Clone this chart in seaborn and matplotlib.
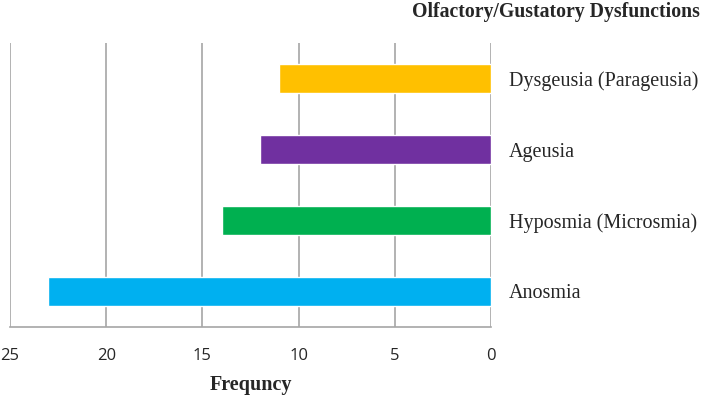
import matplotlib
matplotlib.use("Agg")
import matplotlib.pyplot as plt
import seaborn as sns
import pandas as pd

categories = ["Dysgeusia (Parageusia)", "Ageusia", "Hyposmia (Microsmia)", "Anosmia"]
values = [11, 12, 14, 23]
colors = ["#FFC000", "#7030A0", "#00B050", "#00B0F0"]
xticks = [25, 20, 15, 10, 5, 0]

sns.set_style("white")
df = pd.DataFrame({"cat": categories, "val": values})

fig = plt.figure(figsize=(7.09, 3.97), dpi=100)
ax = fig.add_axes([10/709, 70/397, 481/709, 284/397])
sns.barplot(data=df, y="cat", x="val", hue="cat", palette=colors, order=categories,
            width=0.4, legend=False, ax=ax, orient="h", saturation=1)
ax.set_xlim(25, 0)
ax.set_ylim(3.5, -0.5)
ax.set_xticks(xticks)
ax.set_xticklabels([str(t) for t in xticks], fontfamily="Open Sans", fontsize=12)
ax.tick_params(axis="x", length=0, pad=15)
ax.xaxis.grid(True, color="#a6a6a6", linewidth=1.2)
ax.set_axisbelow(True)
for s in ["top", "right", "left"]:
    ax.spines[s].set_visible(False)
ax.spines["bottom"].set_color("#a6a6a6")
ax.spines["bottom"].set_linewidth(1.2)
ax.yaxis.tick_right()
ax.tick_params(axis="y", length=0, pad=13)
for lbl in ax.get_yticklabels():
    lbl.set_fontfamily("Liberation Serif")
    lbl.set_fontsize(14.5)
ax.set_ylabel("")
ax.set_xlabel("Frequncy", fontfamily="Liberation Serif", fontweight="bold", fontsize=14.5, labelpad=8)
fig.text(700/709, 1 - 12/397, "Olfactory/Gustatory Dysfunctions", ha="right", va="center",
         fontfamily="Liberation Serif", fontweight="bold", fontsize=14.2)
fig.savefig("out.png", dpi=100)
